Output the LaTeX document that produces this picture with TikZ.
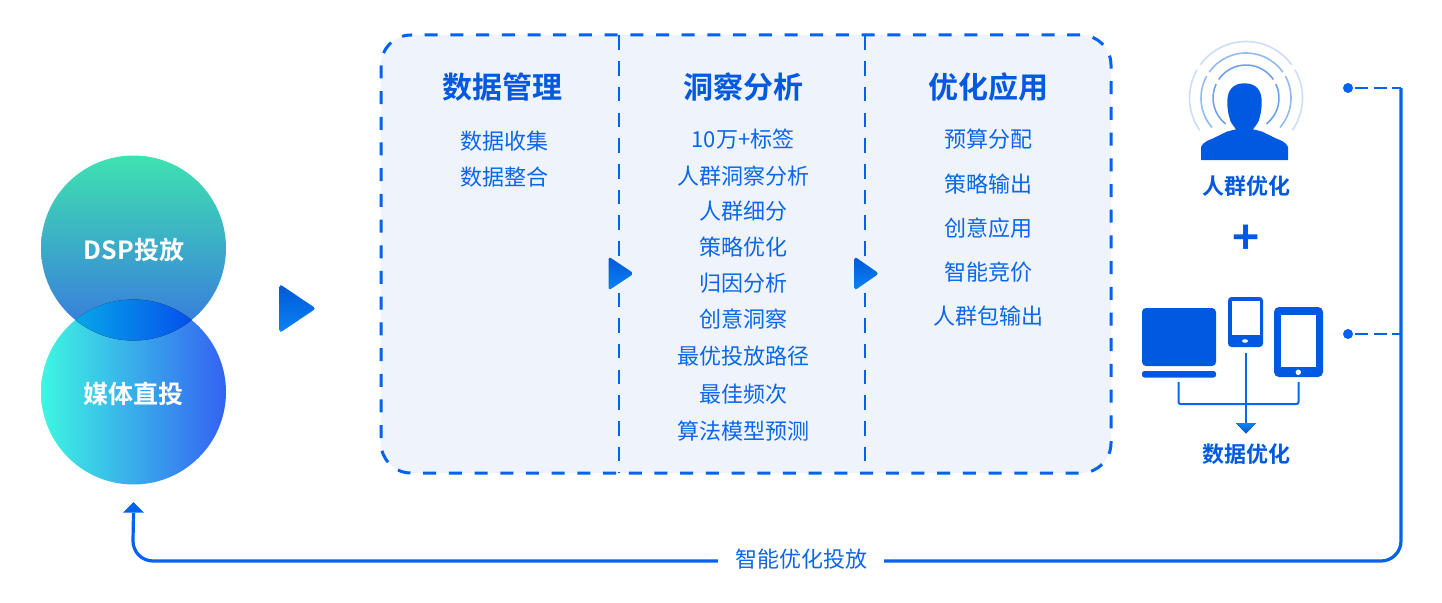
\documentclass[tikz,border=0pt]{standalone}
\usepackage{fontspec}
\setmainfont{Noto Sans CJK SC}[BoldFont={Noto Sans CJK SC Bold}]
\usetikzlibrary{calc}
\definecolor{mainb}{HTML}{0062F0}
\definecolor{darkb}{HTML}{0059E0}
\definecolor{txtb}{HTML}{0A66EC}
\definecolor{panelb}{HTML}{EFF4FC}
\definecolor{trit}{HTML}{0058D8}
\definecolor{trib}{HTML}{0A84F2}
\newcommand{\fs}[1]{\fontsize{#1}{#1}\selectfont}
\tikzset{
  head/.style={text=darkb,font=\fs{30}\bfseries,inner sep=0pt},
  item/.style={text=txtb,font=\fs{22},inner sep=0pt},
  lab/.style={text=darkb,font=\fs{22}\bfseries,inner sep=0pt},
  bubble/.style={circle,minimum size=185pt,inner sep=0pt,text=white,font=\fs{25}\bfseries},
  tri/.style={rounded corners=3pt,top color=trit,bottom color=trib},
  flow/.style={draw=mainb,line width=3.2pt},
  dashflow/.style={draw=mainb,line width=3pt,dash pattern=on 13pt off 12.7pt,dash phase=12pt},
  divide/.style={draw=mainb,line width=2pt,dash pattern=on 14.5pt off 11.2pt},
  thin/.style={draw=#1,line width=1.6pt},
  dev/.style={fill=darkb},
  wire/.style={draw=#1,line width=2pt,rounded corners=2pt},
  wire/.default=txtb,
}
\begin{document}
\begin{tikzpicture}[x=1pt,y=-1pt]
\useasboundingbox (0,0) rectangle (1442,602);
% bubbles
\node[bubble,top color={rgb,255:red,62;green,226;blue,176},bottom color={rgb,255:red,56;green,116;blue,224}] (dsp) at (133.5,248) {};
\node[bubble,left color={rgb,255:red,62;green,246;blue,226},right color={rgb,255:red,52;green,98;blue,242}] (media) at (133.5,392) {};
\begin{scope}
  \clip (133.5,248) circle[radius=92.5];
  \clip (133.5,392) circle[radius=92.5];
  \fill[left color={rgb,255:red,8;green,170;blue,232},right color={rgb,255:red,4;green,76;blue,236}] (70,298) rectangle (197,342);
\end{scope}
\node[text=white,font=\fs{25}\bfseries,inner sep=0pt] (dsplab) at (134,250) {DSP投放};
\node[text=white,font=\fs{25}\bfseries,inner sep=0pt] (medialab) at (133.5,394) {媒体直投};
% arrow 1
\path[tri] (279.5,284) -- (316,308.5) -- (279.5,333) -- cycle;
% panel
\node[draw=none,fill=panelb,rounded corners=30pt,minimum width=730pt,minimum height=438pt,inner sep=0pt] (panel) at (746,254) {};
\draw[dashflow] (411,35) -- (1081,35) arc[start angle=-90,end angle=0,radius=30] -- (1111,443) arc[start angle=0,end angle=90,radius=30] -- (411,473) arc[start angle=90,end angle=180,radius=30] -- (381,65) arc[start angle=180,end angle=270,radius=30] -- cycle;
\coordinate (d1t) at (618.5,35.5); \coordinate (d1b) at (618.5,473);
\coordinate (d2t) at (864.5,35.5); \coordinate (d2b) at (864.5,473);
\draw[divide] (d1t) -- (d1b);
\draw[divide] (d2t) -- (d2b);
\path[tri] (608.5,256.5) -- (634,273.5) -- (608.5,290.5) -- cycle;
\path[tri] (854.5,256.5) -- (879,273.5) -- (854.5,290.5) -- cycle;
% column 1
\node[head] (h1) at (502,87) {数据管理};
\node[item] (a1) at (504,141) {数据收集};
\node[item] (a2) at (504,177) {数据整合};
% column 2
\node[head] (h2) at (743,87) {洞察分析};
\node[item] (b1) at (743,139) {10万+标签};
\node[item] (b2) at (743,176) {人群洞察分析};
\node[item] (b3) at (743,211.5) {人群细分};
\node[item] (b4) at (743,247.5) {策略优化};
\node[item] (b5) at (743,283.5) {归因分析};
\node[item] (b6) at (743,319.5) {创意洞察};
\node[item] (b7) at (743,356.5) {最优投放路径};
\node[item] (b8) at (743,394.5) {最佳频次};
\node[item] (b9) at (743,431.5) {算法模型预测};
% column 3
\node[head] (h3) at (988,87) {优化应用};
\node[item] (c1) at (988,139) {预算分配};
\node[item] (c2) at (988,184) {策略输出};
\node[item] (c3) at (988,228) {创意应用};
\node[item] (c4) at (988,272) {智能竞价};
\node[item] (c5) at (988,316.5) {人群包输出};
% person
\coordinate (w) at (1246,98);
\definecolor{ring1}{HTML}{CCDEF9}\definecolor{ring2}{HTML}{94BAF2}\definecolor{ring3}{HTML}{6FA2EE}
\foreach \r/\c/\a/\b/\e in {56.5/ring1/-144/-150/-215,45/ring2/-145/-151/-221,33/ring3/-146/-155/-232}{
  \pgfmathsetmacro{\mtop}{-180-\a}
  \pgfmathsetmacro{\mr}{-180-\b}
  \pgfmathsetmacro{\me}{-180-\e}
  \draw[thin=\c] ([shift={(\a:\r)}]w) arc[start angle=\a,end angle=\mtop,radius=\r];
  \draw[thin=\c] ([shift={(\b:\r)}]w) arc[start angle=\b,end angle=\e,radius=\r];
  \draw[thin=\c] ([shift={(\mr:\r)}]w) arc[start angle=\mr,end angle=\me,radius=\r];
}
\fill[dev] (1201,160) -- (1201,147) .. controls (1203,142) and (1209,140) .. (1213.3,138.3) -- (1226.7,131.7) .. controls (1230,130.5) and (1234,130) .. (1236,129.3) .. controls (1233,125) and (1230,122) .. (1229.5,118) .. controls (1228,113) and (1227.3,108) .. (1227.3,101.7) .. controls (1227.3,90) and (1233,83.3) .. (1244.5,83.3) .. controls (1256,83.3) and (1261.7,90) .. (1261.7,101.7) .. controls (1261.7,108) and (1261,113) .. (1259.5,118) .. controls (1259,122) and (1256,125) .. (1253,129.3) .. controls (1255,130) and (1259,130.5) .. (1262.3,131.7) -- (1275.7,138.3) .. controls (1280,140) and (1286,142) .. (1288,147) -- (1288,160) -- cycle;
\node[lab] (l1) at (1246.5,186) {人群优化};
\node[text=darkb,font=\fs{46}\bfseries,inner sep=0pt] (plus) at (1246,240) {+};
% devices
\fill[dev,rounded corners=4pt] (1142,308) rectangle (1216,366);
\fill[dev,rounded corners=2.5pt] (1142,371) rectangle (1216,377.5);
\fill[dev,rounded corners=3.5pt] (1228,297) rectangle (1263,347);
\fill[white] (1231.5,301) rectangle (1260,335);
\fill[white] (1245,341) ellipse[x radius=3,y radius=1.8];
\fill[dev,rounded corners=5pt] (1274,307) rectangle (1323,377);
\fill[white] (1281,315) rectangle (1316,367);
\fill[white] (1298.3,372.3) circle[radius=2.7];
% wires
\coordinate (wl) at (1178.5,382); \coordinate (wr) at (1298.5,382);
\coordinate (ws) at (1246,353); \coordinate (wt) at (1246,424);
\draw[wire] (wl) |- (1298.5,404) -- (wr);
\draw[wire,rounded corners=0pt] (ws) -- (wt);
\fill[top color=trib,bottom color=trit] (1236,423) -- (1256,423) -- (1246,433.5) -- cycle;
\node[lab] (l2) at (1246.5,454) {数据优化};
% feedback
\fill[mainb] (1348,88) circle[radius=5] coordinate (p1);
\fill[mainb] (1348,334) circle[radius=5] coordinate (p2);
\coordinate (j1) at (1401,88); \coordinate (j2) at (1401,334);
\draw[dashflow,line width=2.5pt,dash pattern=on 13pt off 5.5pt on 13pt off 5.5pt,dash phase=0pt] (1355,88) -- (j1);
\draw[dashflow,line width=2.5pt,dash pattern=on 13pt off 5.5pt on 13pt off 5.5pt,dash phase=0pt] (1355,334) -- (j2);
\node[text=txtb,font=\fs{22},inner sep=0pt,minimum width=166pt] (fb) at (801,559) {智能优化投放};
\coordinate (tip) at (133.5,513);
\draw[flow] (j1) -- (1401,541) arc[start angle=0,end angle=90,radius=20] -- (fb.east |- 0,561);
\draw[flow] (fb.west |- 0,561) -- (153,561) arc[start angle=90,end angle=180,radius=20] -- (tip);
\fill[mainb] (123,512.5) -- (133.5,502) -- (144,512.5) -- cycle;
\end{tikzpicture}
\end{document}
